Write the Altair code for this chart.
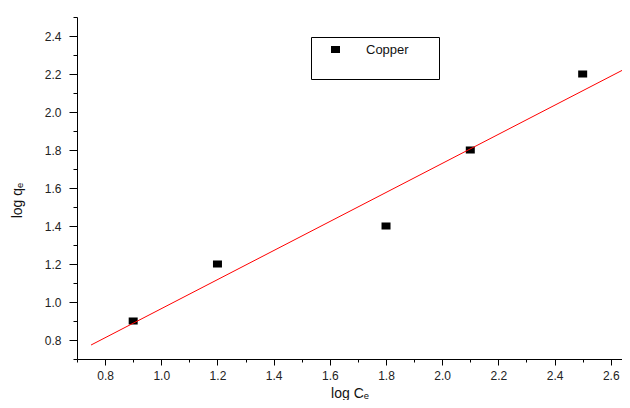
import altair as alt
import pandas as pd

# ---- data ----
log_ce = [0.9, 1.2, 1.8, 2.1, 2.5]
log_qe = [0.9, 1.2, 1.4, 1.8, 2.2]
series = ["Copper", "Copper", "Copper", "Copper", "Copper"]
fit_extent = [0.75, 2.67]
x_ticks = [0.7, 0.8, 0.9, 1.0, 1.1, 1.2, 1.3, 1.4, 1.5, 1.6, 1.7, 1.8, 1.9,
           2.0, 2.1, 2.2, 2.3, 2.4, 2.5, 2.6]
y_ticks = [0.7, 0.8, 0.9, 1.0, 1.1, 1.2, 1.3, 1.4, 1.5, 1.6, 1.7, 1.8, 1.9,
           2.0, 2.1, 2.2, 2.3, 2.4, 2.5]

df = pd.DataFrame({"x": log_ce, "y": log_qe, "series": series})

FONT = "Liberation Sans"
major = "abs(round(datum.value*10)) % 2 == 0"
label_expr = f"{major} ? format(datum.value, '.1f') : ''"

xscale = alt.Scale(domain=[0.7, 2.64], nice=False, zero=False)
yscale = alt.Scale(domain=[0.7, 2.5], nice=False, zero=False)

xaxis = alt.Axis(
    values=x_ticks, labelExpr=label_expr, grid=False,
    tickSize={"condition": {"test": major, "value": 6}, "value": 3},
    title="log Cₑ", titleFontSize=14, titleFont=FONT, titleFontWeight="normal",
    titlePadding=5, labelFontSize=12, labelFont=FONT, labelPadding=5,
    labelColor="#222222", titleColor="#111111", domainColor="black",
    tickColor="black", labelFlush=False, labelOverlap=False,
)
yaxis = alt.Axis(
    values=y_ticks, labelExpr=label_expr, grid=False,
    tickSize={"condition": {"test": major, "value": 8}, "value": 4},
    title="log qₑ", titleFontSize=14, titleFont=FONT, titleFontWeight="normal",
    titleY=183, titleX=-53, labelFontSize=12, labelFont=FONT, labelPadding=8,
    labelColor="#222222", titleColor="#111111", domainColor="black",
    tickColor="black", labelFlush=False, labelOverlap=False,
)

square = "M-1,-0.78L1,-0.78L1,0.78L-1,0.78Z"

line = alt.Chart(df).transform_regression(
    "x", "y", method="linear", extent=fit_extent
).mark_line(color="#ff0000", strokeWidth=1, clip=True).encode(
    x=alt.X("x:Q", scale=xscale, axis=xaxis),
    y=alt.Y("y:Q", scale=yscale, axis=yaxis),
)

legend = alt.Legend(
    orient="none", legendX=234, legendY=20, strokeColor="black",
    fillColor="white", padding=6, symbolOffset=12, labelOffset=24,
    labelFont=FONT, labelFontSize=13, labelColor="#111111",
    symbolSize=81, symbolStrokeWidth=0,
    title="\u200b" + "\u00a0" * 26 + "\u200b", titleOrient="bottom", titleFont=FONT,
    titleFontSize=16, titlePadding=0, titleLimit=400,
)

points = alt.Chart(df).mark_point(filled=True, opacity=1, size=81, strokeWidth=0).encode(
    x=alt.X("x:Q", scale=xscale, axis=xaxis),
    y=alt.Y("y:Q", scale=yscale, axis=yaxis),
    color=alt.Color("series:N", scale=alt.Scale(range=["black"]), legend=legend),
    shape=alt.Shape("series:N", scale=alt.Scale(range=[square]), legend=legend),
)

chart = alt.layer(points, line).properties(
    width=545, height=342,
    autosize=alt.AutoSizeParams(type="none"),
    padding={"left": 69, "top": 9, "right": 0, "bottom": 41},
    background="white",
).configure_view(stroke=None)

chart.save("out.html", embed_options={"renderer": "svg", "actions": False})
